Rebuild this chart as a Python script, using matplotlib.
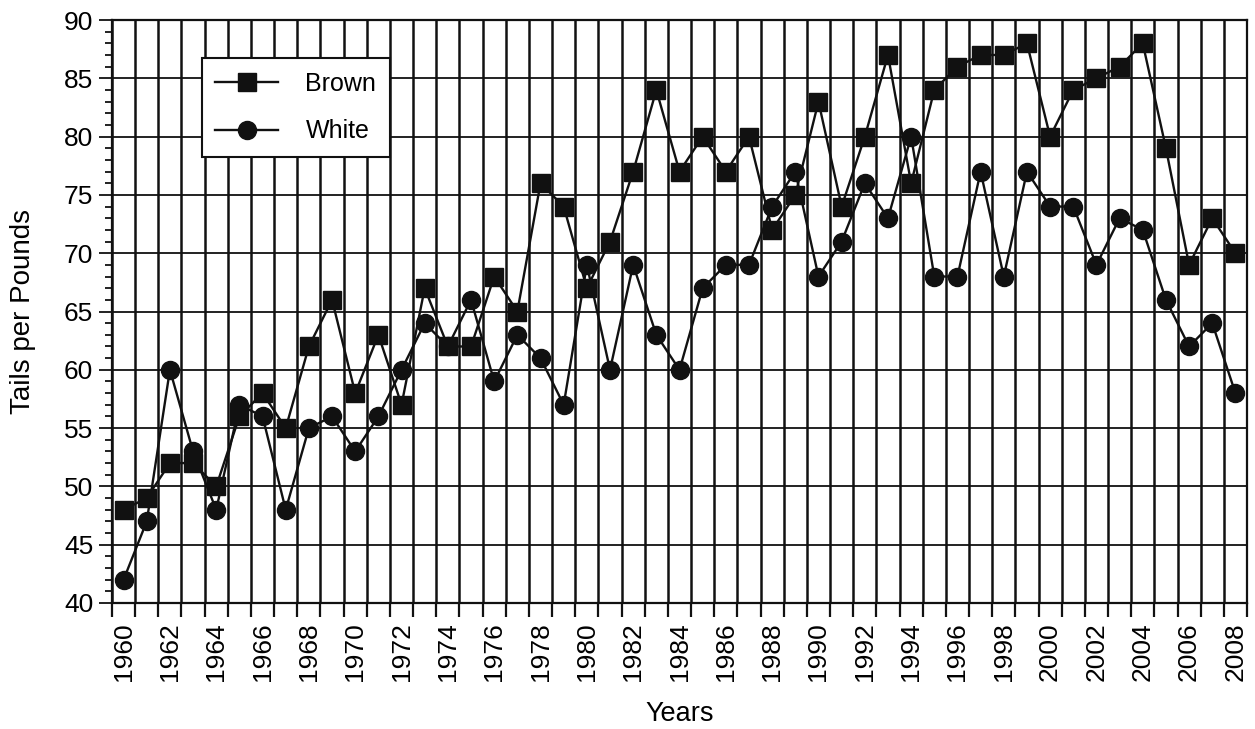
import numpy as np
import matplotlib
matplotlib.use("Agg")
import matplotlib.pyplot as plt

years = list(range(1960, 2009))
brown = [48, 49, 52, 52, 50, 56, 58, 55, 62, 66, 58, 63, 57, 67, 62, 62, 68, 65, 76, 74,
         67, 71, 77, 84, 77, 80, 77, 80, 72, 75, 83, 74, 80, 87, 76, 84, 86, 87, 87, 88,
         80, 84, 85, 86, 88, 79, 69, 73, 70]
white = [42, 47, 60, 53, 48, 57, 56, 48, 55, 56, 53, 56, 60, 64, 62, 66, 59, 63, 61, 57,
         69, 60, 69, 63, 60, 67, 69, 69, 74, 77, 68, 71, 76, 73, 80, 68, 68, 77, 68, 77,
         74, 74, 69, 73, 72, 66, 62, 64, 58]
tick_years = list(range(1960, 2009, 2))
y_ticks = list(range(40, 91, 5))

plt.rcParams['font.family'] = ['Liberation Sans', 'DejaVu Sans']
FS = 19

fig = plt.figure(figsize=(12.55, 7.29), dpi=100)
ax = fig.add_axes([112/1255, (729-603)/729, (1247-112)/1255, (603-20)/729])

ink = '#111111'
ax.plot(years, white, '-o', color=ink, lw=1.7, ms=13, mfc=ink, mec=ink, label='White', zorder=3)
ax.plot(years, brown, '-s', color=ink, lw=1.7, ms=13.5, mfc=ink, mec=ink, label='Brown', zorder=4)

ax.set_xlim(years[0] - 0.5, years[-1] + 0.5)
ax.set_ylim(40, 90)

# x: ticks at year boundaries, labels at even year centres
ax.set_xticks(np.arange(years[0] - 0.5, years[-1] + 1, 1.0))
ax.set_xticklabels([])
ax.set_xticks(tick_years, minor=True)
ax.set_xticklabels([str(y) for y in tick_years], minor=True, rotation=90, fontsize=FS)
ax.tick_params(axis='x', which='major', direction='out', length=10, width=1.6, color=ink)
ax.tick_params(axis='x', which='minor', length=0, pad=14)

ax.set_yticks(y_ticks)
ax.set_yticklabels([str(v) for v in y_ticks], fontsize=FS)
ax.set_yticks(np.arange(40, 91, 1), minor=True)
ax.tick_params(axis='y', which='major', direction='out', length=9.5, width=1.3, color=ink, pad=4)
ax.tick_params(axis='y', which='minor', direction='out', length=5, width=1.3, color=ink)

ax.grid(axis='x', which='major', color=ink, lw=1.8)
ax.grid(axis='y', which='major', color=ink, lw=1.3)
ax.set_axisbelow(True)
for s in ax.spines.values():
    s.set_color(ink)
    s.set_linewidth(1.6)

ax.set_xlabel('Years', fontsize=19.5, labelpad=14)
ax.set_ylabel('Tails per Pounds', fontsize=20, labelpad=20)

handles, labels = ax.get_legend_handles_labels()
leg = ax.legend(handles[::-1], labels[::-1], loc='upper left', bbox_to_anchor=(0.079, 0.935),
                borderaxespad=0, frameon=True, fancybox=False, fontsize=18,
                handlelength=2.5, handletextpad=1.1, borderpad=0.55, labelspacing=0.95)
leg.get_frame().set_edgecolor(ink)
leg.get_frame().set_linewidth(1.5)
leg.get_frame().set_alpha(1)
leg.set_zorder(5)

fig.savefig('out.png', dpi=100, facecolor='white')
